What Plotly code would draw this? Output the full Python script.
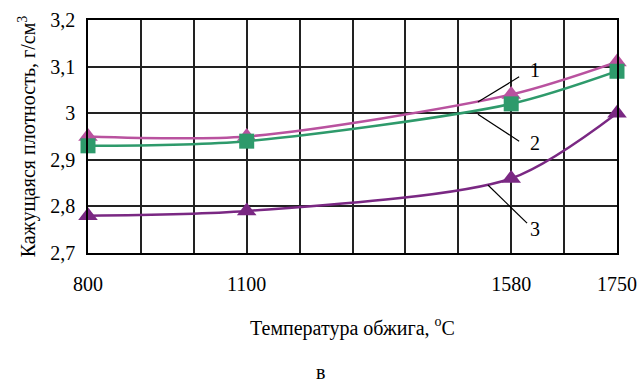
import plotly.graph_objects as go

# ---- data ----
temps = [800, 1100, 1580, 1750]
slot_labels = ["800", "", "", "1100", "", "", "", "", "1580", "", "1750"]
series_names = ["1", "2", "3"]
density_1 = [2.95, 2.95, 3.04, 3.11]
density_2 = [2.93, 2.94, 3.02, 3.09]
density_3 = [2.78, 2.79, 2.86, 3.00]
y_ticks = [2.7, 2.8, 2.9, 3.0, 3.1, 3.2]

FONT = "Liberation Serif"
x_pos = [slot_labels.index(str(t)) for t in temps]

fig = go.Figure()
styles = [
    (density_1, "#b9529f", "triangle-up", 17),
    (density_2, "#2e9a6b", "square", 15),
    (density_3, "#7a2883", "triangle-up", 17),
]
for name, (vals, col, sym, sz) in zip(series_names, styles):
    fig.add_trace(go.Scatter(
        x=x_pos, y=vals, name=name, mode="lines+markers",
        line=dict(color=col, width=2.5, shape="spline", smoothing=0.8),
        marker=dict(symbol=sym, size=sz, color=col),
        showlegend=False, cliponaxis=False,
    ))

# leader lines and series labels
leaders = [
    ((7.37, 3.024), (8.15, 3.078), (8.45, 3.092), "1"),
    ((7.37, 2.998), (8.15, 2.940), (8.45, 2.936), "2"),
    ((7.56, 2.846), (8.30, 2.764), (8.45, 2.751), "3"),
]
for (x0, y0), (x1, y1), (tx, ty), txt in leaders:
    fig.add_shape(type="line", xref="x", yref="y", x0=x0, y0=y0, x1=x1, y1=y1,
                  line=dict(color="black", width=1.2))
    fig.add_annotation(x=tx, y=ty, xref="x", yref="y", text=txt, showarrow=False,
                       font=dict(family=FONT, size=20, color="black"))

fig.add_annotation(x=0.4386, y=-0.512, xref="paper", yref="paper", text="в",
                   yanchor="middle", xanchor="center", borderpad=0,
                   showarrow=False, font=dict(family=FONT, size=20, color="black"))

fig.update_layout(
    width=641, height=383,
    margin=dict(l=88, r=24, t=20, b=130),
    paper_bgcolor="white", plot_bgcolor="white",
    separators=", ",
    font=dict(family=FONT, size=20, color="black"),
    xaxis=dict(
        range=[0, 10], tickmode="array", tickvals=list(range(len(slot_labels))),
        ticktext=slot_labels, showgrid=True, gridcolor="#222", gridwidth=1.5,
        showline=True, linecolor="black", linewidth=1.5, mirror=True,
        ticks="", ticklabelstandoff=12, zeroline=False, automargin=False,
        title=dict(text="Температура обжига, <sup>o</sup>C", standoff=27,
                   font=dict(family=FONT, size=20)),
    ),
    yaxis=dict(
        range=[2.7, 3.2], tickmode="array", tickvals=y_ticks,
        showgrid=True, gridcolor="#222", gridwidth=1.5,
        showline=True, linecolor="black", linewidth=1.5, mirror=True,
        ticks="", ticklabelstandoff=7, zeroline=False, automargin=False,
        title=dict(text="Кажущаяся плотность, г/см<sup>3</sup>", standoff=9,
                   font=dict(family=FONT, size=20)),
    ),
)

fig.write_html("out.html", config={"displayModeBar": False},
               post_script="document.body.style.margin='0';document.body.style.overflow='hidden';")
